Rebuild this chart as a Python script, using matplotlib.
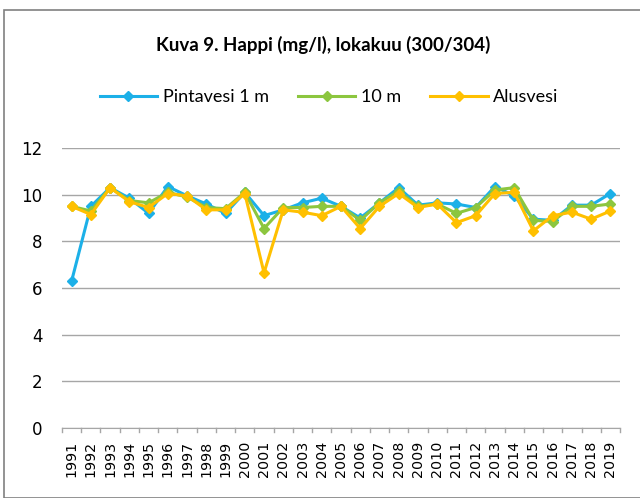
import matplotlib
matplotlib.use("Agg")
import matplotlib.pyplot as plt
from matplotlib.patches import Rectangle

years = [str(y) for y in range(1991, 2020)]
pintavesi = [6.3, 9.5, 10.3, 9.85, 9.2, 10.35, 9.95, 9.6, 9.2, 10.1, 9.1, 9.35, 9.65, 9.85, 9.5,
             9.0, 9.65, 10.3, 9.55, 9.65, 9.6, 9.45, 10.35, 9.95, 8.95, 8.9, 9.55, 9.55, 10.05]
m10 = [9.5, 9.3, 10.3, 9.75, 9.65, 10.1, 9.9, 9.45, 9.4, 10.1, 8.55, 9.45, 9.45, 9.5, 9.5,
       8.9, 9.65, 10.15, 9.5, 9.6, 9.2, 9.45, 10.2, 10.3, 8.9, 8.85, 9.5, 9.5, 9.6]
alusvesi = [9.5, 9.15, 10.3, 9.7, 9.45, 10.05, 9.95, 9.35, 9.35, 10.05, 6.65, 9.35, 9.25, 9.1, 9.5,
            8.55, 9.5, 10.05, 9.45, 9.6, 8.8, 9.1, 10.05, 10.1, 8.45, 9.1, 9.25, 8.95, 9.3]

plt.rcParams['font.family'] = ['DejaVu Sans']
fig = plt.figure(figsize=(6.4, 4.98), dpi=100)
ax = fig.add_axes([62/640, 1-428/498, (620-62)/640, (428-148)/498])

x = list(range(len(years)))
ax.plot(x, pintavesi, color='#1cb0e8', marker='D', markersize=5.5, lw=2.2, label='Pintavesi 1 m', zorder=3)
ax.plot(x, m10, color='#8cc63f', marker='D', markersize=5.5, lw=2.2, label='10 m', zorder=4)
ax.plot(x, alusvesi, color='#ffc000', marker='D', markersize=5.5, lw=2.2, label='Alusvesi', zorder=5)

ax.set_ylim(0, 12)
ax.set_yticks([0, 2, 4, 6, 8, 10, 12])
ax.set_xlim(-0.5, len(years) - 0.5)
ax.set_xticks(x)
ax.set_xticklabels(years, rotation=90, fontsize=10.3)
ax.tick_params(axis='y', length=0, labelsize=12, pad=14)
ax.tick_params(axis='x', length=0, pad=9)
ax.grid(axis='y', color='#a6a6a6', lw=1)
ax.set_axisbelow(True)
for s in ['top', 'right', 'left']:
    ax.spines[s].set_visible(False)
ax.spines['bottom'].set_color('#a6a6a6')
for i in range(len(years) + 1):
    ax.plot([i - 0.5, i - 0.5], [0, -0.18], color='#a6a6a6', lw=1, clip_on=False)

fig.text(323/640, 1-45/498, 'Kuva 9. Happi (mg/l), lokakuu (300/304)', ha='center', va='center',
         fontsize=13.5, fontweight='bold', family=['Lato', 'DejaVu Sans'])
fig.legend(loc='center', bbox_to_anchor=(329/640, 1-97/498), ncol=3, frameon=False,
           prop={'family': ['Lato', 'DejaVu Sans'], 'size': 13}, markerscale=0.9,
           handlelength=3.2, columnspacing=1.6, handletextpad=0.3)

fig.patches.append(Rectangle((4/640, 0), 1, 1-10/498, transform=fig.transFigure,
                             fill=False, edgecolor='#808080', lw=1.2))
fig.savefig('out.png', dpi=100)
